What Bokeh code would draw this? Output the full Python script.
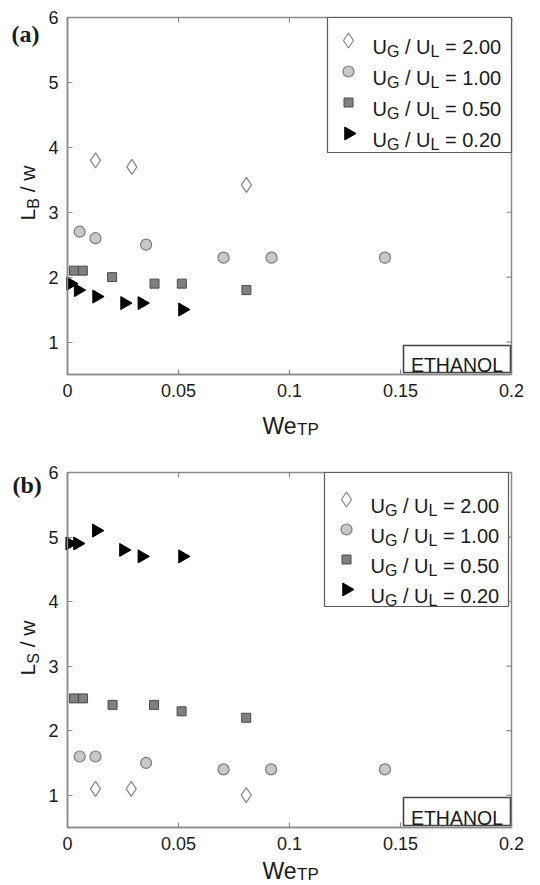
import math
from bokeh.plotting import figure
from bokeh.layouts import column
from bokeh.models import LinearAxis, FixedTicker, NumeralTickFormatter, Range1d
from bokeh.core.properties import value
from bokeh.embed import file_html
from bokeh.resources import INLINE

FONT = "Liberation Sans"
SERIF = "Liberation Serif"

ratio_labels = ["2.00", "1.00", "0.50", "0.20"]
x_ticks = [0, 0.05, 0.1, 0.15, 0.2]
y_ticks = [1, 2, 3, 4, 5, 6]

# panel (a): L_B / w
a_x_200 = [0.0126, 0.0290, 0.0806]
a_y_200 = [3.80, 3.70, 3.42]
a_x_100 = [0.0055, 0.0126, 0.0354, 0.0703, 0.0919, 0.1430]
a_y_100 = [2.7, 2.6, 2.5, 2.3, 2.3, 2.3]
a_x_050 = [0.0029, 0.0069, 0.0201, 0.0392, 0.0515, 0.0806]
a_y_050 = [2.1, 2.1, 2.0, 1.9, 1.9, 1.8]
a_x_020 = [0.0014, 0.0048, 0.0131, 0.0257, 0.0335, 0.0518]
a_y_020 = [1.9, 1.8, 1.7, 1.6, 1.6, 1.5]

# panel (b): L_S / w
b_x_200 = [0.0126, 0.0287, 0.0805]
b_y_200 = [1.1, 1.1, 1.0]
b_x_100 = [0.0055, 0.0126, 0.0354, 0.0703, 0.0917, 0.1430]
b_y_100 = [1.6, 1.6, 1.5, 1.4, 1.4, 1.4]
b_x_050 = [0.0029, 0.0070, 0.0203, 0.0390, 0.0514, 0.0805]
b_y_050 = [2.5, 2.5, 2.4, 2.4, 2.3, 2.2]
b_x_020 = [0.0010, 0.0045, 0.0130, 0.0252, 0.0335, 0.0518]
b_y_020 = [4.9, 4.9, 5.1, 4.8, 4.7, 4.7]

STYLES = [
    dict(marker="diamond", size=15, fill_color="white", line_color="#8a8a8a", line_width=1.3, angle=0.0),
    dict(marker="circle", size=11, fill_color="#c8c8c8", line_color="#7a7a7a", line_width=1.2, angle=0.0),
    dict(marker="square", size=9, fill_color="#808080", line_color="#4a4a4a", line_width=1.0, angle=0.0),
    dict(marker="triangle", size=13, fill_color="black", line_color="black", line_width=1.0, angle=-math.pi / 2),
]

AX_COLOR = "#8a8a8a"
TXT = "#1a1a1a"
X0, X1, Y0, Y1 = 0.0, 0.2, 0.5, 6.0

# Arial/Liberation Sans advance widths (em)
WID = {"U": .722, "G": .778, "L": .556, "B": .667, "S": .667, "T": .611, "P": .667,
       "W": .944, "e": .556, "w": .722, "/": .278, "=": .584, ".": .278, " ": .278}


def tw(s, size):
    return sum(WID.get(c, .556) for c in s) * size


def make_panel(tag, ysub, series, fig_h, frame_top, frame_bot, p_leg, p_eth, p_tag, p_ylab, p_xlab):
    FL, FR = 67, 511  # page x of x=0 and x=0.2
    kx = (FR - FL) / (X1 - X0)
    ky = (frame_bot - frame_top) / (Y1 - Y0)

    def xd(px):
        return X0 + (px - FL) / kx

    def yd(py):
        return Y0 + (frame_bot - py) / ky

    p = figure(width=540, height=fig_h,
               x_range=Range1d(xd(0), xd(540)), y_range=Range1d(yd(fig_h), yd(0)),
               x_axis_type=None, y_axis_type=None,
               output_backend="svg", toolbar_location=None,
               min_border=0, min_border_left=0, min_border_right=0,
               min_border_top=0, min_border_bottom=0)
    p.outline_line_color = None
    p.background_fill_color = "white"
    p.border_fill_color = "white"

    def style_axis(ax):
        ax.major_tick_in = 5
        ax.major_tick_out = 0
        ax.minor_tick_in = 0
        ax.minor_tick_out = 0
        ax.minor_tick_line_color = None
        ax.axis_line_color = AX_COLOR
        ax.axis_line_width = 1.5
        ax.major_tick_line_color = AX_COLOR
        ax.major_tick_line_width = 1.2
        ax.major_label_text_font = FONT
        ax.major_label_text_font_size = "18px"
        ax.major_label_text_color = TXT
        ax.major_label_standoff = 9

    xax = LinearAxis(fixed_location=Y0, bounds=(X0, X1), ticker=FixedTicker(ticks=x_ticks),
                     formatter=NumeralTickFormatter(format="0.[00]"))
    style_axis(xax)
    p.add_layout(xax, "below")
    yax = LinearAxis(fixed_location=X0, bounds=(Y0, Y1), ticker=FixedTicker(ticks=y_ticks))
    style_axis(yax)
    p.add_layout(yax, "left")

    # box outline, top/right inner ticks
    p.quad(left=[X0], right=[X1], bottom=[Y0], top=[Y1], fill_color=None,
           line_color=AX_COLOR, line_width=1.5)
    p.segment(x0=x_ticks, x1=x_ticks, y0=[Y1] * len(x_ticks), y1=[Y1 - 5 / ky] * len(x_ticks),
              line_color=AX_COLOR, line_width=1.2)
    p.segment(x0=[X1] * len(y_ticks), x1=[X1 - 5 / kx] * len(y_ticks), y0=y_ticks, y1=y_ticks,
              line_color=AX_COLOR, line_width=1.2)

    def txt(px, py, s, size, font=FONT, style="normal", align="left", angle=0.0):
        p.text(x=[xd(px)], y=[yd(py)], text=[s], text_font=value(font),
               text_font_size=value(f"{size}px"), text_font_style=style,
               text_align=align, text_baseline="alphabetic", angle=angle, text_color=TXT)

    def run(px, py, parts, angle=0.0):
        ax, ay = math.cos(angle), -math.sin(angle)
        dx, dy = math.sin(angle), math.cos(angle)
        adv = 0.0
        for s, size, drop in parts:
            if s.strip():
                txt(px + ax * adv + dx * drop, py + ay * adv + dy * drop, s, size, angle=angle)
            adv += tw(s, size)

    # data
    for (xs, ys), st in zip(series, STYLES):
        p.scatter(xs, ys, **st)

    # legend
    ll, lr, lt, lb, mx, tx, r0, dr = p_leg
    p.quad(left=[xd(ll)], right=[xd(lr)], top=[yd(lt)], bottom=[yd(lb)],
           fill_color="white", line_color="#5a5a5a", line_width=1.2)
    s, t = 20, 16
    for i, (lab, st) in enumerate(zip(ratio_labels, STYLES)):
        my = r0 + dr * i
        p.scatter([xd(mx)], [yd(my)], **st)
        run(tx, my + 6, [("U", s, 0), ("G", t, 5), (" ", s, 0), ("/", s, 0), (" ", s, 0),
                         ("U", s, 0), ("L", t, 5), (" ", s, 0), ("=", s, 0), (" ", s, 0),
                         (lab, s, 0)])

    # ETHANOL box
    el, er, et, eb = p_eth
    p.quad(left=[xd(el)], right=[xd(er)], top=[yd(et)], bottom=[yd(eb)],
           fill_color="white", line_color="#444444", line_width=1.6)
    txt((el + er) / 2, eb - 8, "ETHANOL", 19.5, align="center")

    # x-axis label We_TP
    xl, xb = p_xlab
    run(xl, xb, [("We", 23, 0), ("TP", 17, 4)])

    # y-axis label L_sub / w
    yl_x, yl_y = p_ylab
    run(yl_x, yl_y, [("L", 21, 0), (ysub, 16, 6), (" ", 21, 0), ("/", 21, 0), (" ", 21, 0),
                     ("w", 21, 0)], angle=math.pi / 2)

    # panel tag
    txt(p_tag[0], p_tag[1], tag, 24, font=SERIF, style="bold")
    return p


pa = make_panel("(a)", "B",
                [(a_x_200, a_y_200), (a_x_100, a_y_100), (a_x_050, a_y_050), (a_x_020, a_y_020)],
                fig_h=440, frame_top=17, frame_bot=374,
                p_leg=(327, 511, 17, 152, 348, 372, 40, 31),
                p_eth=(403, 510, 345, 372), p_tag=(11, 33), p_ylab=(27, 220), p_xlab=(262, 425))
pb = make_panel("(b)", "S",
                [(b_x_200, b_y_200), (b_x_100, b_y_100), (b_x_050, b_y_050), (b_x_020, b_y_020)],
                fig_h=445, frame_top=32, frame_bot=387,
                p_leg=(324, 508, 32, 166, 346, 370, 59, 30),
                p_eth=(403, 510, 357, 385), p_tag=(12, 44), p_ylab=(27, 235), p_xlab=(262, 430))

layout = column(pa, pb)
open("out.html", "w").write(file_html(layout, INLINE))
